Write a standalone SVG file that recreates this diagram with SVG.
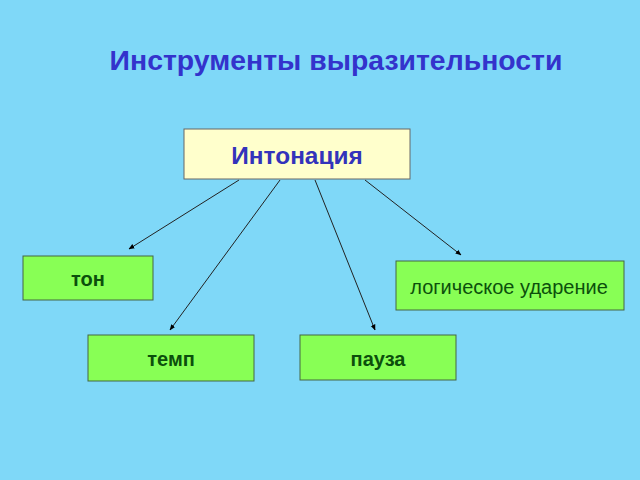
<svg xmlns="http://www.w3.org/2000/svg" width="640" height="480" viewBox="0 0 640 480">
<defs>
<marker id="a" viewBox="0 0 10 10" refX="9" refY="5" markerWidth="6" markerHeight="6" orient="auto"><path d="M0,1 L10,5 L0,9 z" fill="#000"/></marker>
<style>
.g{fill:#88ff55;stroke:#446644;stroke-width:1}
.t{font-family:"Liberation Sans",Arial,sans-serif;font-size:20px;fill:#0c4f0c;text-anchor:middle}
.b{font-weight:bold}
.c{stroke:#222;stroke-width:1;fill:none;marker-end:url(#a)}
</style>
</defs>
<rect width="640" height="480" fill="#7fd8f8"/>
<text x="336" y="70" font-family="Liberation Sans,Arial,sans-serif" font-size="28.4" font-weight="bold" fill="#3333cc" text-anchor="middle">Инструменты выразительности</text>
<g id="connectors">
<line class="c" x1="239" y1="180" x2="129" y2="249"/>
<line class="c" x1="280" y1="180" x2="170" y2="330"/>
<line class="c" x1="315" y1="180" x2="375" y2="330"/>
<line class="c" x1="365" y1="180" x2="461" y2="255"/>
</g>
<g id="n0"><rect x="184" y="129" width="226" height="50" fill="#ffffcc" stroke="#666" stroke-width="1"/><text x="297" y="164" font-family="Liberation Sans,Arial,sans-serif" font-size="24.4" font-weight="bold" fill="#3333bb" text-anchor="middle">Интонация</text></g>
<g id="n1"><rect class="g" x="23" y="256" width="130" height="44"/><text class="t b" x="88" y="286">тон</text></g>
<g id="n2"><rect class="g" x="396" y="261" width="228" height="49"/><text class="t" x="509" y="294" font-size="21.8">логическое  ударение</text></g>
<g id="n3"><rect class="g" x="88" y="335" width="166" height="46"/><text class="t b" x="171" y="366">темп</text></g>
<g id="n4"><rect class="g" x="300" y="335" width="156" height="45"/><text class="t b" x="378" y="366">пауза</text></g>
</svg>
